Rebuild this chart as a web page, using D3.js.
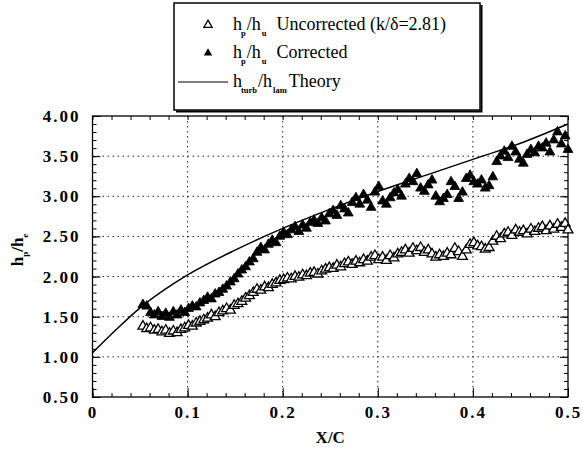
<!DOCTYPE html>
<html>
<head>
<meta charset="utf-8">
<script src="https://cdn.jsdelivr.net/npm/d3@7"></script>
<style>
  body { margin: 0; background: #fff; }
</style>
</head>
<body>
<div id="chart"></div>
<script>
// x/c stations shared by both measured series
const xOverC = [
  0.053, 0.057, 0.061, 0.065, 0.069, 0.073, 0.077, 0.081, 0.085, 0.089,
  0.093, 0.097, 0.101, 0.105, 0.109, 0.113, 0.117, 0.121, 0.125, 0.129,
  0.133, 0.137, 0.141, 0.145, 0.149, 0.153, 0.157, 0.161, 0.165, 0.169,
  0.173, 0.177, 0.181, 0.185, 0.189, 0.193, 0.197, 0.201, 0.205, 0.209,
  0.213, 0.217, 0.221, 0.225, 0.229, 0.233, 0.237, 0.241, 0.245, 0.249,
  0.253, 0.257, 0.261, 0.265, 0.269, 0.273, 0.277, 0.281, 0.285, 0.289,
  0.293, 0.297, 0.301, 0.305, 0.309, 0.313, 0.317, 0.321, 0.325, 0.329,
  0.333, 0.337, 0.341, 0.345, 0.349, 0.353, 0.357, 0.361, 0.365, 0.369,
  0.373, 0.377, 0.381, 0.385, 0.389, 0.393, 0.397, 0.401, 0.405, 0.409,
  0.413, 0.417, 0.421, 0.425, 0.429, 0.433, 0.437, 0.441, 0.445, 0.449,
  0.453, 0.457, 0.461, 0.465, 0.469, 0.473, 0.477, 0.481, 0.485, 0.489,
  0.493, 0.497, 0.500
];

const uncorrected = [
  1.38, 1.35, 1.36, 1.33, 1.34, 1.31, 1.33, 1.29, 1.32, 1.30,
  1.34, 1.36, 1.39, 1.38, 1.42, 1.44, 1.46, 1.48, 1.52, 1.50,
  1.55, 1.57, 1.60, 1.58, 1.64, 1.66, 1.69, 1.73, 1.76, 1.80,
  1.84, 1.83, 1.87, 1.86, 1.90, 1.92, 1.95, 1.96, 1.98, 1.97,
  2.00, 1.99, 2.02, 2.01, 2.04, 2.05, 2.03, 2.07, 2.09, 2.11,
  2.10, 2.14, 2.12, 2.16, 2.18, 2.15, 2.19, 2.17, 2.21, 2.19,
  2.24, 2.26, 2.21, 2.24, 2.20, 2.26, 2.23, 2.28, 2.30, 2.33,
  2.29, 2.35, 2.32, 2.36, 2.30, 2.33, 2.28, 2.24, 2.27, 2.25,
  2.29, 2.27, 2.35, 2.31, 2.25, 2.33, 2.40, 2.42, 2.38, 2.37,
  2.34, 2.36, 2.44, 2.50, 2.47, 2.53, 2.55, 2.51, 2.58, 2.55,
  2.57, 2.53, 2.59, 2.56, 2.60, 2.62, 2.57, 2.63, 2.59, 2.65,
  2.61, 2.66, 2.58
];

const corrected = [
  1.65, 1.63, 1.55, 1.52, 1.56, 1.50, 1.54, 1.49, 1.56, 1.52,
  1.58, 1.55, 1.60, 1.63, 1.62, 1.67, 1.70, 1.74, 1.72, 1.78,
  1.80, 1.84, 1.88, 1.93, 1.97, 2.03, 2.08, 2.12, 2.18, 2.22,
  2.30, 2.36, 2.33, 2.40, 2.45, 2.42, 2.50, 2.55, 2.52, 2.58,
  2.62, 2.56, 2.64, 2.60, 2.67, 2.70, 2.66, 2.73, 2.69, 2.78,
  2.82, 2.76, 2.88, 2.84, 2.79, 2.92, 2.98, 2.90, 3.02, 2.95,
  2.86, 3.05, 3.12, 2.94, 2.90, 2.98, 3.04, 3.08, 3.00, 3.15,
  3.22, 3.18, 3.28, 3.10, 3.06, 3.14, 3.20, 3.00, 2.93, 2.97,
  3.02, 3.18, 3.12, 2.97, 3.05, 3.22, 3.26, 3.18, 3.15, 3.20,
  3.10, 3.13, 3.24, 3.43, 3.50, 3.56, 3.48, 3.62, 3.55, 3.46,
  3.41, 3.52, 3.58, 3.54, 3.62, 3.60, 3.66, 3.55, 3.70, 3.80,
  3.65, 3.75, 3.58
];

const theoryX = [0, 0.025, 0.05, 0.075, 0.1, 0.15, 0.2, 0.25, 0.3, 0.35, 0.4, 0.45, 0.5];
const theoryY = [1.05, 1.34, 1.61, 1.83, 2.02, 2.33, 2.60, 2.84, 3.06, 3.26, 3.46, 3.66, 3.90];

const yMajor = [0.5, 1.0, 1.5, 2.0, 2.5, 3.0, 3.5, 4.0];
const xMajor = [0, 0.1, 0.2, 0.3, 0.4, 0.5];

const serif = "'Liberation Serif', 'Times New Roman', serif";

const width = 583, height = 454;
const plotLeft = 92.5, plotRight = 568, plotTop = 116, plotBottom = 397;

const svg = d3.select("#chart").append("svg")
    .attr("width", width)
    .attr("height", height)
    .style("font-family", serif);

const x = d3.scaleLinear().domain([0, 0.5]).range([plotLeft, plotRight]);
const y = d3.scaleLinear().domain([0.5, 4]).range([plotBottom, plotTop]);

// dotted grid
const grid = svg.append("g")
    .attr("stroke", "#222")
    .attr("stroke-width", 1)
    .attr("stroke-dasharray", "1.5,3.5");
grid.selectAll("line.h")
  .data(yMajor.slice(1, -1))
  .enter()
  .append("line")
    .attr("x1", plotLeft).attr("x2", plotRight)
    .attr("y1", d => y(d)).attr("y2", d => y(d));
grid.selectAll("line.v")
  .data(xMajor.slice(1, -1))
  .enter()
  .append("line")
    .attr("y1", plotTop).attr("y2", plotBottom)
    .attr("x1", d => x(d)).attr("x2", d => x(d));

// minor ticks on all four sides, pointing in
const yMinor = d3.range(5, 41).map(i => i / 10);
const xMinor = d3.range(0, 26).map(i => i / 50);

svg.append("g")
    .attr("transform", `translate(${plotLeft},0)`)
    .call(d3.axisLeft(y).tickValues(yMinor).tickSize(-4).tickFormat(""))
    .call(g => g.select(".domain").remove());
svg.append("g")
    .attr("transform", `translate(${plotRight},0)`)
    .call(d3.axisRight(y).tickValues(yMinor).tickSize(-4).tickFormat(""))
    .call(g => g.select(".domain").remove());
svg.append("g")
    .attr("transform", `translate(0,${plotBottom})`)
    .call(d3.axisBottom(x).tickValues(xMinor).tickSize(-4).tickFormat(""))
    .call(g => g.select(".domain").remove());
svg.append("g")
    .attr("transform", `translate(0,${plotTop})`)
    .call(d3.axisTop(x).tickValues(xMinor).tickSize(-4).tickFormat(""))
    .call(g => g.select(".domain").remove());

// major ticks + labels
const styleTicks = g => g.selectAll("text")
    .attr("font-family", serif)
    .style("font-family", serif)
    .attr("font-size", 17)
    .attr("font-weight", "bold")
    .attr("letter-spacing", 2);

svg.append("g")
    .attr("transform", `translate(${plotLeft},0)`)
    .call(d3.axisLeft(y).tickValues(yMajor).tickSize(-8).tickPadding(12).tickFormat(d3.format(".2f")))
    .call(g => g.select(".domain").remove())
    .call(styleTicks);

svg.append("g")
    .attr("transform", `translate(0,${plotBottom})`)
    .call(d3.axisBottom(x).tickValues(xMajor).tickSize(-9).tickPadding(9).tickFormat(d => d === 0 ? "0" : d3.format(".1f")(d)))
    .call(g => g.select(".domain").remove())
    .call(styleTicks);

svg.append("g")
    .attr("transform", `translate(${plotRight},0)`)
    .call(d3.axisRight(y).tickValues(yMajor).tickSize(-8).tickFormat(""))
    .call(g => g.select(".domain").remove());

svg.selectAll(".tick line").attr("stroke", "#000").attr("stroke-width", 1);

// frame
svg.append("rect")
    .attr("x", plotLeft).attr("y", plotTop)
    .attr("width", plotRight - plotLeft).attr("height", plotBottom - plotTop)
    .attr("fill", "none")
    .attr("stroke", "#000")
    .attr("stroke-width", 1.3);

// theory curve
const theory = theoryX.map((d, i) => [d, theoryY[i]]);
svg.append("path")
    .datum(theory)
    .attr("fill", "none")
    .attr("stroke", "#000")
    .attr("stroke-width", 1.5)
    .attr("d", d3.line().x(d => x(d[0])).y(d => y(d[1])).curve(d3.curveMonotoneX));

const tri = d3.symbol(d3.symbolTriangle, 42);

svg.append("g")
  .selectAll("path")
  .data(xOverC.map((d, i) => [d, uncorrected[i]]))
  .enter()
  .append("path")
    .attr("d", tri)
    .attr("transform", d => `translate(${x(d[0])},${y(d[1])})`)
    .attr("fill", "#fff")
    .attr("stroke", "#000")
    .attr("stroke-width", 1.3);

svg.append("g")
  .selectAll("path")
  .data(xOverC.map((d, i) => [d, corrected[i]]))
  .enter()
  .append("path")
    .attr("d", tri)
    .attr("transform", d => `translate(${x(d[0])},${y(d[1])})`)
    .attr("fill", "#000")
    .attr("stroke", "#000")
    .attr("stroke-width", 0.8);

// axis titles
svg.append("text")
    .attr("x", (plotLeft + plotRight) / 2)
    .attr("y", 443)
    .attr("text-anchor", "middle")
    .attr("font-family", serif)
    .attr("font-size", 17)
    .attr("font-weight", "bold")
    .text("X/C");

const yTitle = svg.append("text")
    .attr("transform", "translate(23,250) rotate(-90)")
    .attr("text-anchor", "middle")
    .attr("font-family", serif)
    .attr("font-size", 17)
    .attr("font-weight", "bold");
yTitle.append("tspan").text("h");
yTitle.append("tspan").attr("dy", 5).attr("font-size", 9).text("p");
yTitle.append("tspan").attr("dy", -5).text("/h");
yTitle.append("tspan").attr("dy", 5).attr("font-size", 9).text("e");

// legend
const legend = svg.append("g");
legend.append("rect")
    .attr("x", 174).attr("y", 3)
    .attr("width", 306).attr("height", 107)
    .attr("fill", "#fff")
    .attr("stroke", "#000")
    .attr("stroke-width", 1.5);
legend.append("path")
    .attr("d", "M176,111.5H481.5V5")
    .attr("fill", "none")
    .attr("stroke", "#000")
    .attr("stroke-width", 2);

const legendRows = [
  { y: 25, main: "h", sub1: "p", mid: "/h", sub2: "u", rest: "Uncorrected (k/\u03b4=2.81)", gap: 10 },
  { y: 53, main: "h", sub1: "p", mid: "/h", sub2: "u", rest: "Corrected", gap: 10 },
  { y: 82, main: "h", sub1: "turb", mid: "/h", sub2: "lam", rest: "Theory", gap: 2 }
];

legend.append("path")
    .attr("d", d3.symbol(d3.symbolTriangle, 30))
    .attr("transform", `translate(208,${legendRows[0].y})`)
    .attr("fill", "#fff").attr("stroke", "#000").attr("stroke-width", 1.3);
legend.append("path")
    .attr("d", d3.symbol(d3.symbolTriangle, 30))
    .attr("transform", `translate(208,${legendRows[1].y})`)
    .attr("fill", "#000");
legend.append("line")
    .attr("x1", 178).attr("x2", 228)
    .attr("y1", legendRows[2].y).attr("y2", legendRows[2].y)
    .attr("stroke", "#000").attr("stroke-width", 1.2);

legendRows.forEach(r => {
  const t = legend.append("text")
      .attr("x", 233)
      .attr("y", r.y + 5)
      .attr("font-family", serif)
      .attr("font-size", 18);
  t.append("tspan").text(r.main);
  t.append("tspan").attr("dy", 6).attr("dx", -1).attr("font-size", 8.5).attr("font-weight", "bold").text(r.sub1);
  t.append("tspan").attr("dy", -6).attr("dx", 1).text(r.mid);
  t.append("tspan").attr("dy", 6).attr("dx", 1).attr("font-size", 8.5).attr("font-weight", "bold").text(r.sub2);
  t.append("tspan").attr("dy", -6).attr("dx", r.gap).text(r.rest);
});
</script>
</body>
</html>
